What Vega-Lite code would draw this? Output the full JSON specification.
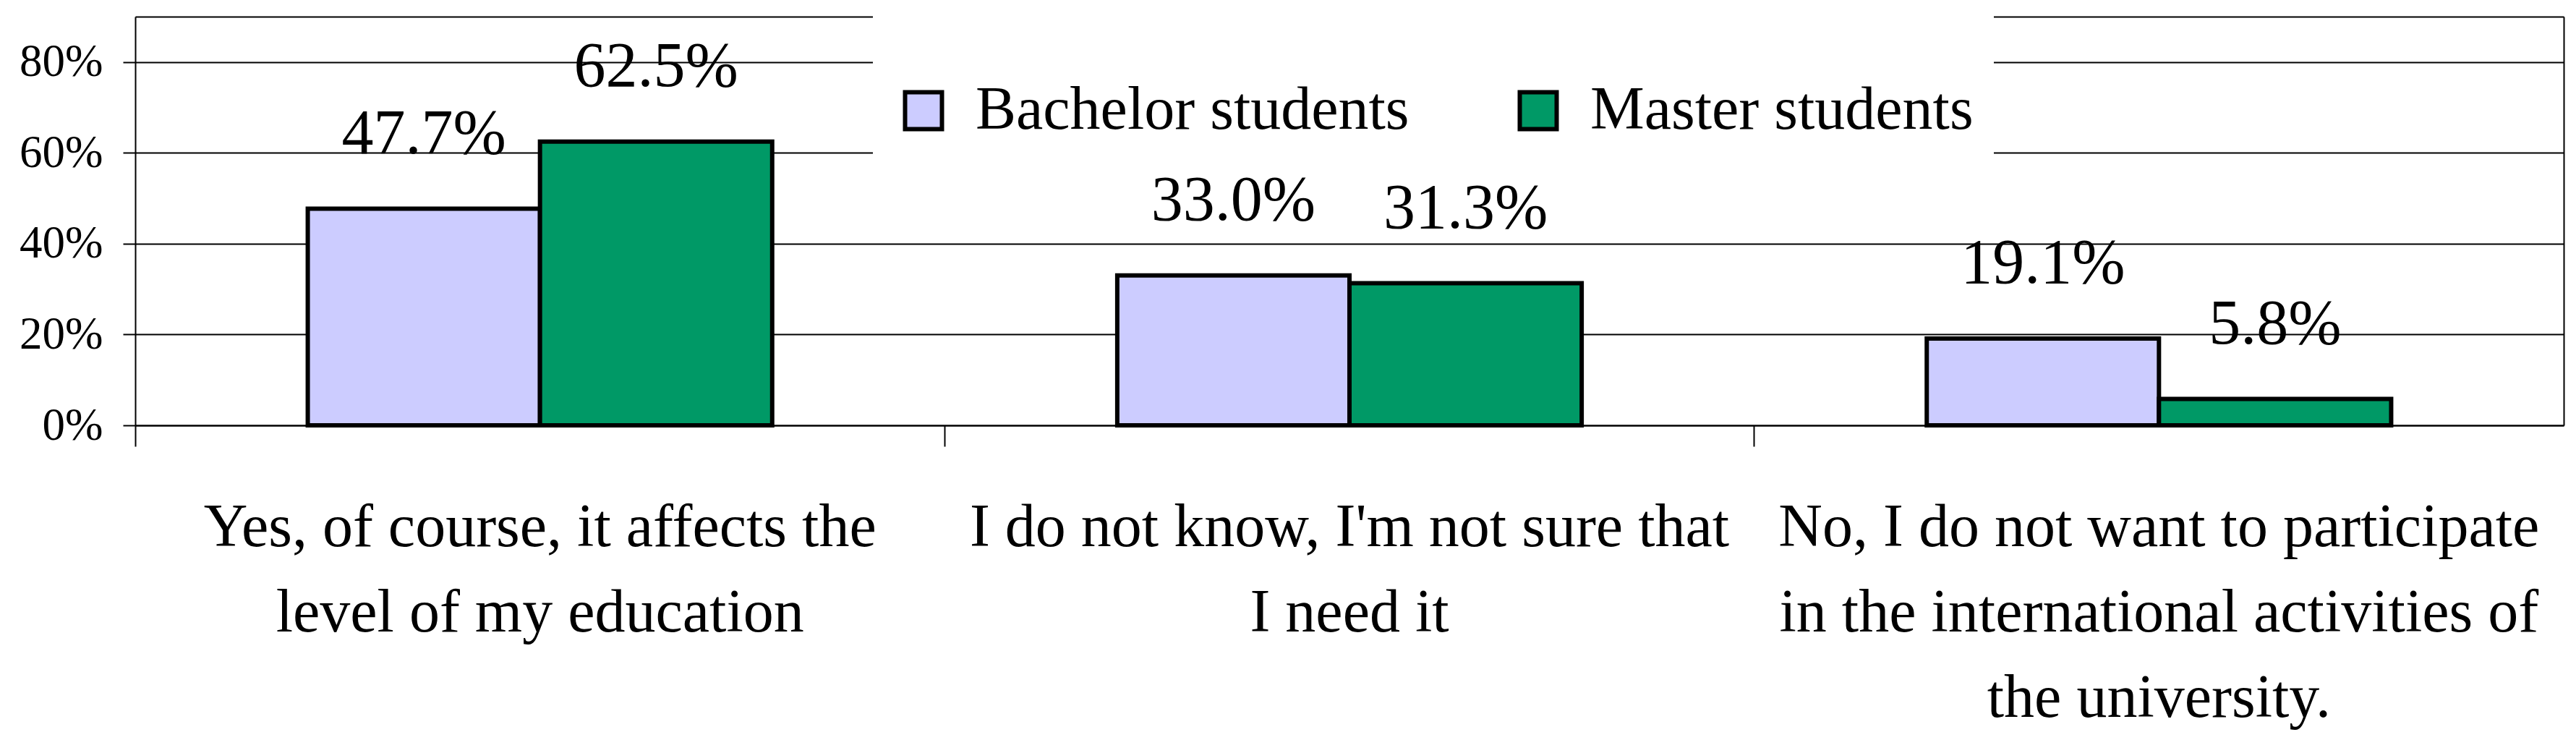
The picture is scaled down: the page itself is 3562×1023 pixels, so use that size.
{
  "$schema": "https://vega.github.io/schema/vega-lite/v6.json",
  "width": 3358,
  "height": 565,
  "autosize": {"type": "none"},
  "padding": {"left": 187, "top": 23, "right": 17, "bottom": 435},
  "background": "white",
  "config": {"view": {"stroke": null}, "font": "Liberation Serif"},
  "data": {
    "values": [
      {"answer": "Yes, of course, it affects the level of my education", "group": "Bachelor students", "value": 0.477},
      {"answer": "Yes, of course, it affects the level of my education", "group": "Master students", "value": 0.625},
      {"answer": "I do not know, I'm not sure that I need it", "group": "Bachelor students", "value": 0.330},
      {"answer": "I do not know, I'm not sure that I need it", "group": "Master students", "value": 0.313},
      {"answer": "No, I do not want to participate in the international activities of the university.", "group": "Bachelor students", "value": 0.191},
      {"answer": "No, I do not want to participate in the international activities of the university.", "group": "Master students", "value": 0.058}
    ]
  },
  "resolve": {"axis": {"x": "independent", "y": "independent"}},
  "layer": [
    {
      "mark": {"type": "bar", "stroke": "black", "strokeWidth": 6},
      "encoding": {
        "x": {
          "field": "answer", "type": "nominal", "sort": null, "title": null,
          "scale": {"paddingInner": 0, "paddingOuter": 0},
          "axis": {
            "labelExpr": "indexof(datum.value,'Yes')==0 ? ['Yes, of course, it affects the','level of my education'] : indexof(datum.value,'No,')==0 ? ['No, I do not want to participate','in the international activities of','the university.'] : [\"I do not know, I'm not sure that\",'I need it']",
            "labelFontSize": 84, "labelFont": "Liberation Serif", "labelColor": "black",
            "labelLineHeight": 118, "labelPadding": 71, "labelLimit": 3000,
            "labelOverlap": false, "labelBound": false, "labelAngle": 0,
            "bandPosition": 0,
            "tickSize": 29, "tickColor": "black", "tickWidth": 2,
            "domainColor": "black", "domainWidth": 2, "grid": false
          }
        },
        "xOffset": {
          "field": "group", "type": "nominal", "sort": ["Bachelor students", "Master students"],
          "scale": {"paddingInner": 0, "paddingOuter": 0.743}
        },
        "y": {
          "field": "value", "type": "quantitative", "title": null,
          "scale": {"domain": [0, 0.9], "nice": false},
          "axis": {
            "values": [0, 0.2, 0.4, 0.6, 0.8],
            "format": ".0%",
            "labelFontSize": 63, "labelFont": "Liberation Serif", "labelColor": "black",
            "labelPadding": 28, "tickSize": 17, "tickColor": "black",
            "tickWidth": 2, "domainColor": "black", "domainWidth": 2,
            "grid": true, "gridColor": "black", "gridWidth": 2, "gridOpacity": 1
          }
        },
        "color": {
          "field": "group", "type": "nominal",
          "scale": {"domain": ["Bachelor students", "Master students"], "range": ["#CCCCFF", "#009966"]},
          "legend": {
            "orient": "none", "legendX": 1020, "legendY": -10, "direction": "horizontal",
            "fillColor": "white", "padding": 28,
            "title": "\u00a0\u00a0\u00a0\u00a0\u00a0\u00a0\u00a0\u00a0\u00a0\u00a0\u00a0\u00a0\u00a0\u00a0\u00a0\u00a0\u00a0\u00a0\u00a0\u00a0\u00a0\u00a0\u00a0\u00a0\u00a0\u00a0\u00a0\u00a0\u00a0\u00a0\u00a0\u00a0\u00a0\u00a0\u00a0\u00a0\u00a0\u00a0\u00a0\u00a0\u00a0\u00a0\u00a0\u00a0\u00a0\u00a0\u00a0\u00a0\u00a0\u00a0\u00a0\u00a0\u00a0\u00a0\u00a0\u00a0\u00a0\u00a0\u00a0\u00a0\u00a0\u00a0\u00a0\u00a0\u00a0\u00a0\u00a0\u00a0\u00a0\u00a0\u00a0\u00a0\u00a0\u00a0\u00a0\u00a0\u00a0\u00a0\u00a0\u00a0\u00a0\u00a0\u00a0\u00a0\u00a0\u00a0\u00a0\u00a0\u00a0\u00a0\u00a0\u00a0\u00a0\u00a0\u00a0\u00a0\u00a0\u00a0\u00a0\u00a0\u00a0\u00a0\u00a0\u00a0\u00a0",
            "titleOrient": "top", "titleAnchor": "middle", "titleFontSize": 60, "titlePadding": 10, "titleLimit": 5000,
            "labelFont": "Liberation Serif", "labelFontSize": 84, "labelColor": "black", "labelLimit": 3000,
            "labelOffset": 30, "columnPadding": 136,
            "symbolType": "square", "symbolSize": 2601, "symbolStrokeColor": "black", "symbolStrokeWidth": 6
          }
        }
      }
    },
    {
      "mark": {"type": "text", "fontSize": 88, "font": "Liberation Serif", "baseline": "alphabetic", "dy": -77, "color": "black"},
      "encoding": {
        "x": {
          "field": "answer", "type": "nominal", "sort": null,
          "axis": {"orient": "top", "labels": false, "ticks": false, "grid": false, "domainColor": "black", "domainWidth": 2, "title": null}
        },
        "xOffset": {"field": "group", "type": "nominal", "sort": ["Bachelor students", "Master students"]},
        "y": {
          "field": "value", "type": "quantitative",
          "axis": {"orient": "right", "labels": false, "ticks": false, "grid": false, "domainColor": "black", "domainWidth": 2, "title": null}
        },
        "text": {"field": "value", "type": "quantitative", "format": ".1%"}
      }
    }
  ]
}
